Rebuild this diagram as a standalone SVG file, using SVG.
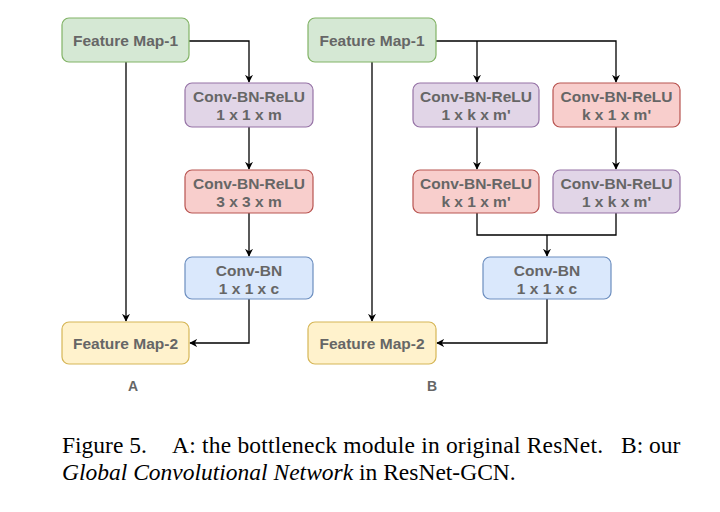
<svg xmlns="http://www.w3.org/2000/svg" width="720" height="512" viewBox="0 0 720 512">
<defs>
<marker id="arr" viewBox="0 0 10 10" refX="9" refY="5" markerWidth="8" markerHeight="8" markerUnits="userSpaceOnUse" orient="auto">
<path d="M0,0 L10,5 L0,10 L3,5 Z" fill="#000"/>
</marker>
</defs>
<style>
.box{stroke-width:1.2}
.g{fill:#d5e8d4;stroke:#82b366}
.p{fill:#e1d5e7;stroke:#9673a6}
.r{fill:#f8cecc;stroke:#b85450}
.b{fill:#dae8fc;stroke:#6c8ebf}
.y{fill:#fff2cc;stroke:#d6b656}
.t{font-family:"Liberation Sans",Arial,sans-serif;font-weight:bold;font-size:15.5px;fill:#666;text-anchor:middle}
.c{fill:none;stroke:#000;stroke-width:1.3}
.cap{font-family:"Liberation Serif","Times New Roman",serif;font-size:23.5px;fill:#000}
</style>
<rect width="720" height="512" fill="#fff"/>
<g id="connectors">
<path class="c" d="M189,41 H249 V82" marker-end="url(#arr)"/>
<path class="c" d="M249,127 V169" marker-end="url(#arr)"/>
<path class="c" d="M249,213 V256" marker-end="url(#arr)"/>
<path class="c" d="M249,299 V343 H190" marker-end="url(#arr)"/>
<path class="c" d="M126,62 V321" marker-end="url(#arr)"/>
<path class="c" d="M436,41 H616 V82" marker-end="url(#arr)"/>
<path class="c" d="M477,41 V82" marker-end="url(#arr)"/>
<path class="c" d="M477,127 V169" marker-end="url(#arr)"/>
<path class="c" d="M616,127 V169" marker-end="url(#arr)"/>
<path class="c" d="M477,213 V235 H616 V213"/>
<path class="c" d="M547,235 V256" marker-end="url(#arr)"/>
<path class="c" d="M547,299 V343 H437" marker-end="url(#arr)"/>
<path class="c" d="M372,62 V321" marker-end="url(#arr)"/>
</g>
<g id="a-fm1"><rect class="box g" x="62" y="18" width="127" height="44" rx="7"/><text class="t" x="125.5" y="45.5">Feature Map-1</text></g>
<g id="a-conv1"><rect class="box p" x="185" y="83" width="128" height="44" rx="7"/><text class="t" x="249" y="101.5">Conv-BN-ReLU</text><text class="t" x="249" y="119.5">1 x 1 x m</text></g>
<g id="a-conv2"><rect class="box r" x="185" y="170" width="128" height="43" rx="7"/><text class="t" x="249" y="188.5">Conv-BN-ReLU</text><text class="t" x="249" y="206.5">3 x 3 x m</text></g>
<g id="a-conv3"><rect class="box b" x="185" y="257" width="128" height="42" rx="7"/><text class="t" x="249" y="275.5">Conv-BN</text><text class="t" x="249" y="293.5">1 x 1 x c</text></g>
<g id="a-fm2"><rect class="box y" x="62" y="322" width="127" height="42" rx="7"/><text class="t" x="125.5" y="348.5">Feature Map-2</text></g>
<g id="b-fm1"><rect class="box g" x="308" y="18" width="128" height="44" rx="7"/><text class="t" x="372" y="45.5">Feature Map-1</text></g>
<g id="b-conv1a"><rect class="box p" x="413" y="83" width="126" height="44" rx="7"/><text class="t" x="476" y="101.5">Conv-BN-ReLU</text><text class="t" x="476" y="119.5">1 x k x m'</text></g>
<g id="b-conv1b"><rect class="box r" x="553" y="83" width="127" height="44" rx="7"/><text class="t" x="616.5" y="101.5">Conv-BN-ReLU</text><text class="t" x="616.5" y="119.5">k x 1 x m'</text></g>
<g id="b-conv2a"><rect class="box r" x="413" y="170" width="126" height="43" rx="7"/><text class="t" x="476" y="188.5">Conv-BN-ReLU</text><text class="t" x="476" y="206.5">k x 1 x m'</text></g>
<g id="b-conv2b"><rect class="box p" x="553" y="170" width="127" height="43" rx="7"/><text class="t" x="616.5" y="188.5">Conv-BN-ReLU</text><text class="t" x="616.5" y="206.5">1 x k x m'</text></g>
<g id="b-conv3"><rect class="box b" x="483" y="257" width="128" height="42" rx="7"/><text class="t" x="547" y="275.5">Conv-BN</text><text class="t" x="547" y="293.5">1 x 1 x c</text></g>
<g id="b-fm2"><rect class="box y" x="308" y="322" width="128" height="42" rx="7"/><text class="t" x="372" y="348.5">Feature Map-2</text></g>
<g id="labels">
<text class="t" x="133" y="391" style="font-size:14px">A</text>
<text class="t" x="432" y="391" style="font-size:14px">B</text>
</g>
<g id="caption">
<text class="cap" y="453"><tspan x="62">Figure 5.</tspan><tspan x="172" textLength="431" lengthAdjust="spacing">A: the bottleneck module in original ResNet.</tspan><tspan x="621">B: our</tspan></text>
<text class="cap" x="62" y="480"><tspan font-style="italic">Global Convolutional Network</tspan> in ResNet-GCN.</text>
</g>
</svg>
